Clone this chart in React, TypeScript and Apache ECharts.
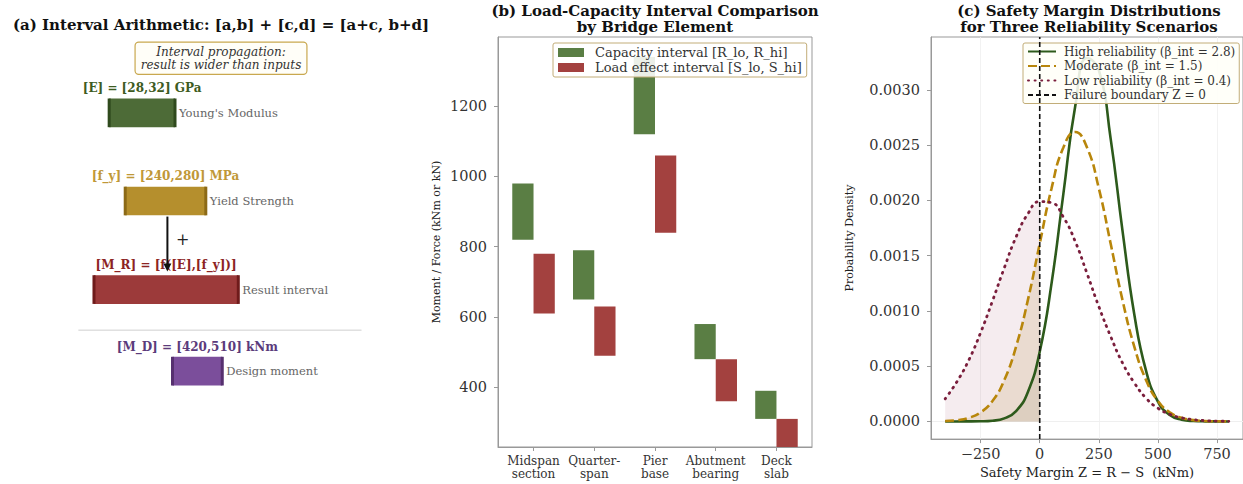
import React, { useEffect, useRef } from "react";
import * as echarts from "echarts";

const FONT = '"DejaVu Serif", serif';

// ---------------- Panel (a): interval arithmetic schematic ----------------
const schematicLabels = [
  "[E] = [28,32] GPa",
  "[f_y] = [240,280] MPa",
  "[M_R] = [f([E],[f_y])]",
  "[M_D] = [420,510] kNm",
];
const schematicNotes = ["Young's Modulus", "Yield Strength", "Result interval", "Design moment"];
const propagationNote = "Interval propagation:\nresult is wider than inputs";
const operatorSymbol = "+";

// layout of the schematic inside the hidden panel axes (0–10 × 0–10)
const schemLo = [2.35, 2.73, 1.99, 3.85];
const schemHi = [3.91, 4.64, 5.41, 5.03];
const schemRow = [8.15, 6.0, 3.84, 1.85];
const schemHalf = 0.35;
const schemLabelOffset = 0.6;
const arrowX = 3.73;
const arrowTop = 5.62;
const arrowBottom = 4.28;
const plusPos = [4.09, 5.05];
const separatorX = [1.62, 8.33];
const separatorY = 2.85;
const notePos = [5.0, 9.48];

const schemFill = ["#4d6b37", "#b58f2d", "#9c3a3a", "#7b4e9b"];
const schemCap = ["#2f4a1d", "#8c6a17", "#6f1b1b", "#56306f"];
const schemLabelColor = ["#3d5b22", "#bf9838", "#8c2323", "#5b3b7b"];

// ---------------- Panel (b): load-capacity intervals ----------------
const categories = ["Midspan\nsection", "Quarter-\nspan", "Pier\nbase", "Abutment\nbearing", "Deck\nslab"];
const capacityLo = [820, 650, 1120, 480, 310];
const capacityHi = [980, 790, 1340, 580, 390];
const loadLo = [610, 490, 840, 360, 230];
const loadHi = [780, 630, 1060, 480, 310];
const yTicksB = [400, 600, 800, 1000, 1200];
const capName = "Capacity interval [R_lo, R_hi]";
const loadName = "Load effect interval [S_lo, S_hi]";

// ---------------- Panel (c): safety margin densities ----------------
const zValues = [
  -400, -350, -300, -250, -200, -150, -100, -50, 0, 50, 100, 150, 200, 250, 300, 350, 400, 450, 500, 550,
  600, 650, 700, 750, 800,
];
const highDensity = [
  0, 0, 0.0000002, 0.0000014, 0.0000068, 0.000028, 0.000094, 0.000267, 0.000631, 0.00125, 0.00206, 0.00285,
  0.00329, 0.00318, 0.00256, 0.00173, 0.000971, 0.000457, 0.00018, 0.000059, 0.000016, 0.0000037, 0.0000007,
  0.0000001, 0,
];
const moderateDensity = [
  0.0000038, 0.0000117, 0.000033, 0.000082, 0.000185, 0.000374, 0.000678, 0.0011, 0.00161, 0.00211, 0.00248,
  0.00262, 0.00248, 0.00211, 0.00161, 0.0011, 0.000678, 0.000374, 0.000185, 0.000082, 0.000033, 0.0000117,
  0.0000038, 0.000001, 0.0000002,
];
const lowDensity = [
  0.000205, 0.000361, 0.000556, 0.000804, 0.00109, 0.00139, 0.00167, 0.00188, 0.00199, 0.00198, 0.00185,
  0.00163, 0.00134, 0.00104, 0.00077, 0.00053, 0.00035, 0.00021, 0.00012, 0.000065, 0.000033, 0.000016,
  0.000007, 0.000003, 0.000001,
];
const xTicksC = [-250, 0, 250, 500, 750];
const yTicksC = [0, 0.0005, 0.001, 0.0015, 0.002, 0.0025, 0.003];
const highName = "High reliability (β_int = 2.8)";
const modName = "Moderate (β_int = 1.5)";
const lowName = "Low reliability (β_int = 0.4)";
const failName = "Failure boundary Z = 0";

const C_CAP = "#5a7e44";
const C_LOAD = "#a3413f";
const C_HIGH = "#2d5a1b";
const C_MOD = "#b8860b";
const C_LOW = "#7a1e3c";

const Y_MIN_B = 230;
const Y_MAX_B = 1397;
const Y_MIN_C = -0.00016;
const Y_MAX_C = 0.00348;

function pairs(vals: number[], filt?: (z: number) => boolean) {
  const out: number[][] = [];
  zValues.forEach((z, i) => {
    if (!filt || filt(z)) out.push([z, vals[i]]);
  });
  return out;
}

function fmtMinus(v: number) {
  return v < 0 ? "\u2212" + String(-v) : String(v);
}

export default function App() {
  const ref = useRef<HTMLDivElement>(null);
  useEffect(() => {
    if (!ref.current) return;
    const chart = echarts.init(ref.current, undefined, { renderer: "svg" });

    const axisGray = "#999";
    const tickText = "#333";

    const intervalBars = (lo: number[], hi: number[], offset: number, color: string, name: string) => ({
      name,
      type: "custom",
      xAxisIndex: 1,
      yAxisIndex: 1,
      itemStyle: { color },
      clip: true,
      data: lo.map((l, i) => [i, l, hi[i]]),
      renderItem: (params: any, api: any) => {
        const i = api.value(0);
        const a = api.coord([i + offset, api.value(2)]);
        const b = api.coord([i + offset + 0.35, api.value(1)]);
        return {
          type: "rect",
          shape: { x: a[0], y: a[1], width: b[0] - a[0], height: b[1] - a[1] },
          style: { fill: color },
        };
      },
    });

    const titleFont = `bold 15px ${FONT}`;
    const titleStyle = (text: string) => ({
      text,
      font: titleFont,
      fill: "#111",
      align: "center",
      verticalAlign: "middle",
    });

    const option: any = {
      animation: false,
      textStyle: { fontFamily: FONT },
      graphic: [
        { type: "text", x: 221, y: 25, style: titleStyle("(a) Interval Arithmetic: [a,b] + [c,d] = [a+c, b+d]") },
        { type: "text", x: 655, y: 11, style: titleStyle("(b) Load-Capacity Interval Comparison") },
        { type: "text", x: 655, y: 27, style: titleStyle("by Bridge Element") },
        { type: "text", x: 1089, y: 11, style: titleStyle("(c) Safety Margin Distributions") },
        { type: "text", x: 1089, y: 27, style: titleStyle("for Three Reliability Scenarios") },
      ],
      grid: [
        { left: 10, top: 37, width: 422, height: 410 },
        { left: 498, top: 37, width: 314, height: 410, show: true, borderColor: axisGray, borderWidth: 1 },
        { left: 931, top: 37, width: 315, height: 410, show: true, borderColor: axisGray, borderWidth: 1 },
      ],
      xAxis: [
        { type: "value", gridIndex: 0, min: 0, max: 10, show: false },
        {
          type: "value",
          gridIndex: 1,
          min: -0.585,
          max: 4.585,
          axisLine: { show: true, onZero: false, lineStyle: { color: axisGray } },
          axisTick: { show: true, customValues: [0, 1, 2, 3, 4], length: 4, lineStyle: { color: axisGray } },
          axisLabel: {
            customValues: [0, 1, 2, 3, 4],
            formatter: (v: number) => categories[Math.round(v)],
            fontSize: 12,
            lineHeight: 13.5,
            color: tickText,
            margin: 7,
            fontFamily: FONT,
          },
          splitLine: { show: false },
        },
        {
          type: "value",
          gridIndex: 2,
          min: -460,
          max: 860,
          axisLine: { show: true, onZero: false, lineStyle: { color: axisGray } },
          axisTick: { show: true, customValues: xTicksC, length: 4, lineStyle: { color: axisGray } },
          axisLabel: {
            customValues: xTicksC,
            formatter: (v: number) => fmtMinus(v),
            fontSize: 14.5,
            color: tickText,
            margin: 7,
            fontFamily: FONT,
          },
          splitLine: { show: false },
          name: "Safety Margin Z = R \u2212 S  (kNm)",
          nameLocation: "middle",
          nameGap: 22,
          nameTextStyle: { fontSize: 13, color: "#222", fontFamily: FONT },
        },
      ],
      yAxis: [
        { type: "value", gridIndex: 0, min: 0, max: 10, show: false },
        {
          type: "value",
          gridIndex: 1,
          min: Y_MIN_B,
          max: Y_MAX_B,
          axisLine: { show: true, onZero: false, lineStyle: { color: axisGray } },
          axisTick: { show: true, customValues: yTicksB, length: 4, lineStyle: { color: axisGray } },
          axisLabel: {
            customValues: yTicksB,
            formatter: (v: number) => String(v),
            fontSize: 14.5,
            color: tickText,
            margin: 11,
            fontFamily: FONT,
          },
          splitLine: { show: false },
          name: "Moment / Force (kNm or kN)",
          nameLocation: "middle",
          nameGap: 56,
          nameTextStyle: { fontSize: 11, color: "#222", fontFamily: FONT },
        },
        {
          type: "value",
          gridIndex: 2,
          min: Y_MIN_C,
          max: Y_MAX_C,
          axisLine: { show: true, onZero: false, lineStyle: { color: axisGray } },
          axisTick: { show: true, customValues: yTicksC, length: 4, lineStyle: { color: axisGray } },
          axisLabel: {
            customValues: yTicksC,
            formatter: (v: number) => v.toFixed(4),
            fontSize: 14.5,
            color: tickText,
            margin: 11,
            fontFamily: FONT,
          },
          splitLine: { show: false },
          name: "Probability Density",
          nameLocation: "middle",
          nameGap: 76,
          nameTextStyle: { fontSize: 11, color: "#222", fontFamily: FONT },
        },
      ],
      legend: [
        {
          data: [capName, loadName],
          left: 553,
          top: 43,
          orient: "vertical",
          icon: "rect",
          itemWidth: 26,
          itemHeight: 9,
          itemGap: 0,
          padding: [2, 5],
          selectedMode: false,
          backgroundColor: "rgba(255,255,255,0.88)",
          borderColor: "#c2ad78",
          borderWidth: 1,
          borderRadius: 2,
          textStyle: { fontFamily: FONT, fontSize: 13, color: "#333", lineHeight: 15, padding: [0, 0, 0, 6] },
        },
        {
          data: [highName, modName, lowName, failName],
          left: 1023,
          top: 43,
          orient: "vertical",
          itemWidth: 28,
          itemHeight: 10,
          itemGap: 0.5,
          padding: [1.5, 4],
          selectedMode: false,
          itemStyle: { opacity: 0 },
          backgroundColor: "rgba(255,255,248,0.88)",
          borderColor: "#c2ad78",
          borderWidth: 1,
          borderRadius: 2,
          textStyle: { fontFamily: FONT, fontSize: 12, color: "#333", lineHeight: 14, padding: [0, 0, 0, 3] },
        },
      ],
      series: [
        // ---- panel (a) ----
        {
          type: "custom",
          xAxisIndex: 0,
          yAxisIndex: 0,
          clip: false,
          silent: true,
          data: schemLo.map((lo, i) => [lo, schemHi[i], schemRow[i], i]),
          renderItem: (params: any, api: any) => {
            const lo = api.value(0);
            const hi = api.value(1);
            const row = api.value(2);
            const i = api.value(3);
            const p0 = api.coord([lo, row + schemHalf]);
            const p1 = api.coord([hi, row - schemHalf]);
            const labelY = api.coord([lo, row + schemLabelOffset])[1];
            const midY = (p0[1] + p1[1]) / 2;
            return {
              type: "group",
              children: [
                {
                  type: "rect",
                  shape: { x: p0[0], y: p0[1], width: p1[0] - p0[0], height: p1[1] - p0[1] },
                  style: { fill: schemFill[i] },
                },
                {
                  type: "line",
                  shape: { x1: p0[0], y1: p0[1], x2: p0[0], y2: p1[1] },
                  style: { stroke: schemCap[i], lineWidth: 3 },
                },
                {
                  type: "line",
                  shape: { x1: p1[0], y1: p0[1], x2: p1[0], y2: p1[1] },
                  style: { stroke: schemCap[i], lineWidth: 3 },
                },
                {
                  type: "text",
                  x: (p0[0] + p1[0]) / 2,
                  y: labelY,
                  style: {
                    text: schematicLabels[i],
                    font: `bold 12px ${FONT}`,
                    fill: schemLabelColor[i],
                    align: "center",
                    verticalAlign: "middle",
                  },
                },
                {
                  type: "text",
                  x: p1[0] + 4,
                  y: midY,
                  style: {
                    text: schematicNotes[i],
                    font: `11.5px ${FONT}`,
                    fill: "#666",
                    align: "left",
                    verticalAlign: "middle",
                  },
                },
              ],
            };
          },
        },
        {
          type: "custom",
          xAxisIndex: 0,
          yAxisIndex: 0,
          clip: false,
          silent: true,
          data: [[0, 0]],
          renderItem: (params: any, api: any) => {
            const a0 = api.coord([arrowX, arrowTop]);
            const a1 = api.coord([arrowX, arrowBottom]);
            const pl = api.coord(plusPos);
            const s0 = api.coord([separatorX[0], separatorY]);
            const s1 = api.coord([separatorX[1], separatorY]);
            const nb = api.coord(notePos);
            return {
              type: "group",
              children: [
                {
                  type: "line",
                  shape: { x1: s0[0], y1: s0[1], x2: s1[0], y2: s1[1] },
                  style: { stroke: "#cfcfcf", lineWidth: 1 },
                },
                {
                  type: "line",
                  shape: { x1: a0[0], y1: a0[1], x2: a1[0], y2: a1[1] - 6 },
                  style: { stroke: "#111", lineWidth: 2 },
                },
                {
                  type: "polygon",
                  shape: {
                    points: [
                      [a1[0], a1[1]],
                      [a1[0] - 4, a1[1] - 8],
                      [a1[0] + 4, a1[1] - 8],
                    ],
                  },
                  style: { fill: "#111" },
                },
                {
                  type: "text",
                  x: pl[0],
                  y: pl[1],
                  style: {
                    text: operatorSymbol,
                    font: `16px ${FONT}`,
                    fill: "#222",
                    align: "center",
                    verticalAlign: "middle",
                  },
                },
                {
                  type: "text",
                  x: nb[0],
                  y: nb[1],
                  style: {
                    text: propagationNote,
                    font: `italic 12px ${FONT}`,
                    lineHeight: 13.5,
                    fill: "#333",
                    align: "center",
                    verticalAlign: "middle",
                    backgroundColor: "#fffef8",
                    borderColor: "#c9a84f",
                    borderWidth: 1.2,
                    borderRadius: 3,
                    padding: [2, 5],
                  },
                },
              ],
            };
          },
        },
        // ---- panel (b) ----
        intervalBars(capacityLo, capacityHi, -0.35, C_CAP, capName),
        intervalBars(loadLo, loadHi, 0, C_LOAD, loadName),
        // ---- panel (c) ----
        {
          type: "line",
          xAxisIndex: 2,
          yAxisIndex: 2,
          data: [],
          silent: true,
          markLine: {
            silent: true,
            symbol: ["none", "none"],
            label: { show: false },
            z: 0,
            lineStyle: { color: "#efefef", width: 0.8, type: "solid" },
            data: [...xTicksC.map((v) => ({ xAxis: v })), ...yTicksC.map((v) => ({ yAxis: v }))],
          },
        },
        {
          type: "line",
          xAxisIndex: 2,
          yAxisIndex: 2,
          data: pairs(lowDensity, (z) => z <= 0),
          smooth: true,
          symbol: "none",
          silent: true,
          lineStyle: { width: 0 },
          areaStyle: { color: "rgba(139,26,58,0.12)" },
          z: 1,
        },
        {
          type: "line",
          xAxisIndex: 2,
          yAxisIndex: 2,
          data: pairs(moderateDensity, (z) => z <= 0),
          smooth: true,
          symbol: "none",
          silent: true,
          lineStyle: { width: 0 },
          areaStyle: { color: "rgba(170,120,20,0.2)" },
          z: 1,
        },
        {
          type: "line",
          xAxisIndex: 2,
          yAxisIndex: 2,
          data: pairs(highDensity, (z) => z <= 0),
          smooth: true,
          symbol: "none",
          silent: true,
          lineStyle: { width: 0 },
          areaStyle: { color: "rgba(90,70,30,0.12)" },
          z: 1,
        },
        {
          name: highName,
          type: "line",
          xAxisIndex: 2,
          yAxisIndex: 2,
          data: pairs(highDensity),
          smooth: true,
          symbol: "none",
          itemStyle: { color: C_HIGH },
          lineStyle: { color: C_HIGH, width: 2.6 },
          z: 3,
        },
        {
          name: modName,
          type: "line",
          xAxisIndex: 2,
          yAxisIndex: 2,
          data: pairs(moderateDensity),
          smooth: true,
          symbol: "none",
          itemStyle: { color: C_MOD },
          lineStyle: { color: C_MOD, width: 2.6, type: [9, 4] },
          z: 3,
        },
        {
          name: lowName,
          type: "line",
          xAxisIndex: 2,
          yAxisIndex: 2,
          data: pairs(lowDensity),
          smooth: true,
          symbol: "none",
          itemStyle: { color: C_LOW },
          lineStyle: { color: C_LOW, width: 2.8, type: [1, 5.6], cap: "round" },
          z: 3,
        },
        {
          name: failName,
          type: "line",
          xAxisIndex: 2,
          yAxisIndex: 2,
          data: [
            [0, Y_MIN_C],
            [0, Y_MAX_C],
          ],
          symbol: "none",
          itemStyle: { color: "#111" },
          lineStyle: { color: "#111", width: 1.6, type: [5, 3] },
          z: 4,
        },
      ],
    };
    chart.setOption(option);
    return () => chart.dispose();
  }, []);
  return (
    <div
      ref={ref}
      style={{ position: "absolute", left: 0, top: 0, width: 1243, height: 484, background: "#fff" }}
    />
  );
}
